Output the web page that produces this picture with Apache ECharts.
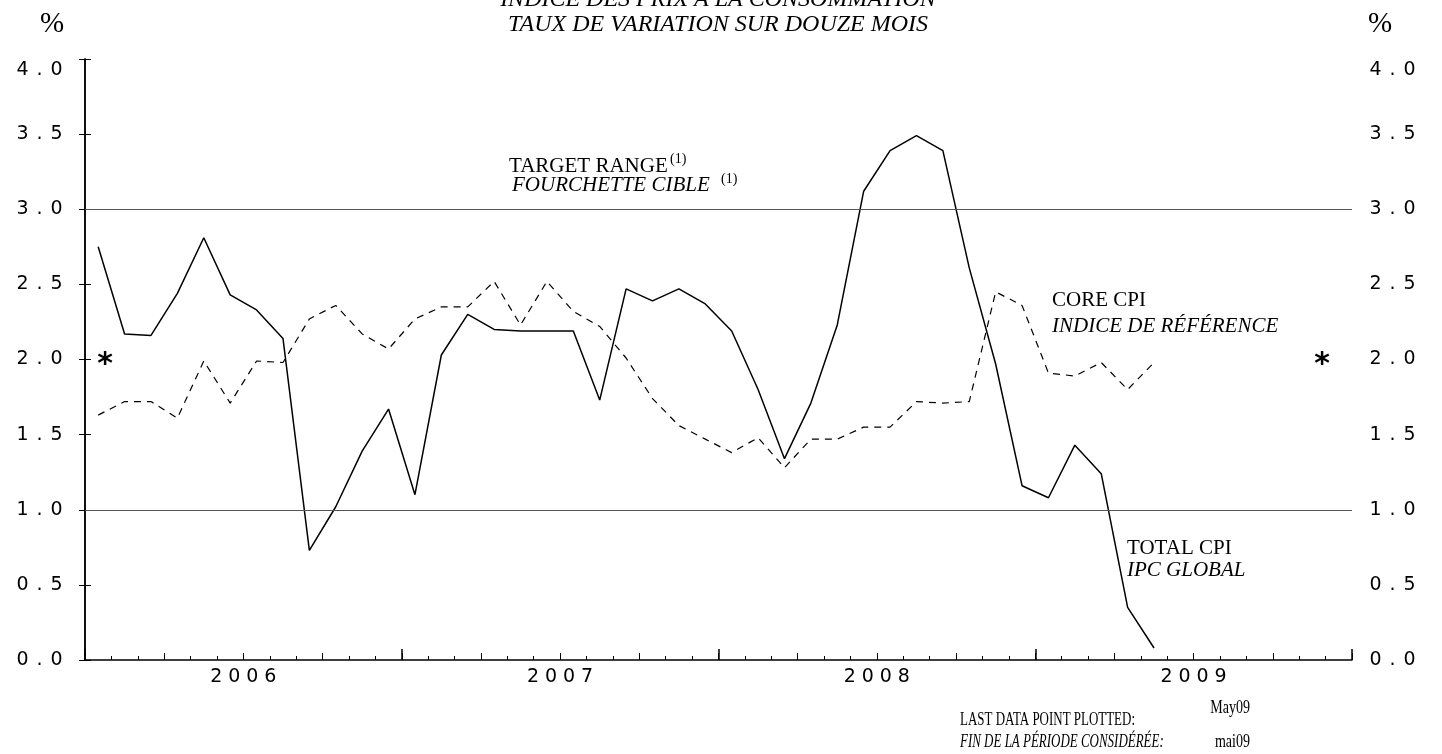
<!DOCTYPE html>
<html><head><meta charset="utf-8">
<script src="https://cdn.jsdelivr.net/npm/echarts@6/dist/echarts.min.js"></script>
<style>html,body{margin:0;padding:0;background:#fff}#c{width:1442px;height:754px}</style>
</head><body><div id="c"></div>
<script>
// Monthly axis, Jan 2006 .. Dec 2009 (48 months)
const months = [
 'Jan06','Feb06','Mar06','Apr06','May06','Jun06','Jul06','Aug06','Sep06','Oct06','Nov06','Dec06',
 'Jan07','Feb07','Mar07','Apr07','May07','Jun07','Jul07','Aug07','Sep07','Oct07','Nov07','Dec07',
 'Jan08','Feb08','Mar08','Apr08','May08','Jun08','Jul08','Aug08','Sep08','Oct08','Nov08','Dec08',
 'Jan09','Feb09','Mar09','Apr09','May09','Jun09','Jul09','Aug09','Sep09','Oct09','Nov09','Dec09'
];
const yearLabels = ['2006','2007','2008','2009'];
// Total CPI, 12-month % change, Jan06..May09
const totalCPI = [
 2.75, 2.17, 2.16, 2.44, 2.81, 2.43, 2.33, 2.14, 0.73, 1.02, 1.39, 1.67,
 1.10, 2.03, 2.30, 2.20, 2.19, 2.19, 2.19, 1.73, 2.47, 2.39, 2.47, 2.37,
 2.19, 1.80, 1.34, 1.71, 2.23, 3.12, 3.39, 3.49, 3.39, 2.61, 1.97, 1.16,
 1.08, 1.43, 1.24, 0.35, 0.08
];
// Core CPI, 12-month % change, Jan06..May09
const coreCPI = [
 1.63, 1.72, 1.72, 1.61, 1.99, 1.71, 1.99, 1.98, 2.27, 2.36, 2.17, 2.07,
 2.27, 2.35, 2.35, 2.52, 2.23, 2.52, 2.32, 2.22, 2.01, 1.74, 1.56, 1.47,
 1.38, 1.48, 1.28, 1.47, 1.47, 1.55, 1.55, 1.72, 1.71, 1.72, 2.45, 2.36,
 1.91, 1.89, 1.98, 1.80, 1.98
];
const targetRange = [1.0, 3.0];

const chart = echarts.init(document.getElementById('c'), null, {renderer: 'canvas'});

function spaced(str, key) {
  return str.split('').map(function (ch) { return '{' + key + '|' + ch + '}'; }).join('');
}
const digitStyle = {fontFamily: 'DejaVu Sans', fontSize: 19, width: 17, align: 'center', color: '#000'};
const yRich = {
  c: digitStyle,
  t: Object.assign({}, digitStyle, {padding: [22, 0, 0, 0]})
};
const yearRich = {y: Object.assign({}, digitStyle, {width: 18})};

const baseX = {
  type: 'value', min: 0, max: 48, gridIndex: 0, position: 'bottom',
  splitLine: {show: false}, axisLabel: {show: false},
  axisLine: {show: false, onZero: false},
  axisTick: {show: true, inside: true, lineStyle: {color: '#000', width: 1}}
};
function xAx(extra) { return Object.assign({}, baseX, extra); }

function yAx(pos, margin) {
  return {
    type: 'value', min: 0, max: 4, interval: 0.5, position: pos,
    axisLine: {show: true, lineStyle: {color: '#000', width: 1.5}},
    axisTick: {show: true, inside: true, length: 6, lineStyle: {color: '#000', width: 1}},
    splitLine: {show: false},
    axisLabel: {
      margin: margin,
      formatter: function (v) { return spaced(v.toFixed(1), v === 4 ? 't' : 'c'); },
      rich: yRich
    }
  };
}

function pts(arr) { return arr.map(function (v, i) { return [i + 0.5, v]; }); }

const serif = 'Liberation Serif';
function txt(x, y, text, size, opts) {
  opts = opts || {};
  return {
    type: 'text', x: x, y: y, silent: true,
    scaleX: opts.scaleX || 1,
    style: {
      text: text,
      fontFamily: opts.family || serif,
      fontSize: size,
      fontStyle: opts.italic ? 'italic' : 'normal',
      fontWeight: opts.bold ? 'bold' : 'normal',
      fill: '#000',
      textAlign: opts.align || 'left',
      textVerticalAlign: 'middle'
    }
  };
}

chart.setOption({
  animation: false,
  backgroundColor: '#fff',
  grid: {left: 85, right: 90, top: 59, bottom: 94, containLabel: false},
  xAxis: [
    xAx({interval: 1, axisLine: {show: true, onZero: false, lineStyle: {color: '#000', width: 1.5}},
         axisTick: {show: true, inside: true, length: 4, lineStyle: {color: '#000', width: 1}}}),
    xAx({interval: 3, axisTick: {show: true, inside: true, length: 7, lineStyle: {color: '#000', width: 1}}}),
    xAx({interval: 12, axisTick: {show: true, inside: true, length: 11, lineStyle: {color: '#000', width: 1.5}}}),
    xAx({interval: 6, axisTick: {show: false},
         axisLabel: {show: true, margin: 8, rich: yearRich,
           formatter: function (v) {
             if ((v - 6) % 12 !== 0) return '';
             return spaced(yearLabels[(v - 6) / 12], 'y');
           }}})
  ],
  yAxis: [yAx('left', 20), yAx('right', 15)],
  series: [
    {
      name: 'TOTAL CPI', type: 'line', xAxisIndex: 0, yAxisIndex: 0,
      data: pts(totalCPI), symbol: 'none',
      lineStyle: {color: '#000', width: 1.5},
      markLine: {
        silent: true, symbol: ['none', 'none'], label: {show: false},
        lineStyle: {color: '#555', width: 1.2, type: 'solid'},
        data: targetRange.map(function (v) { return {yAxis: v}; })
      }
    },
    {
      name: 'CORE CPI', type: 'line', xAxisIndex: 0, yAxisIndex: 0,
      data: pts(coreCPI), symbol: 'none',
      lineStyle: {color: '#000', width: 1.2, type: [7, 6]}
    }
  ],
  graphic: [
    txt(718, 0, 'INDICE DES PRIX À LA CONSOMMATION', 24, {italic: true, align: 'center'}),
    txt(718, 25, 'TAUX DE VARIATION SUR DOUZE MOIS', 24, {italic: true, align: 'center'}),
    txt(52, 24, '%', 29, {align: 'center'}),
    txt(1380, 24, '%', 29, {align: 'center'}),
    txt(105, 365, '*', 30, {family: 'DejaVu Sans', bold: true, align: 'center'}),
    txt(1322, 365, '*', 30, {family: 'DejaVu Sans', bold: true, align: 'center'}),
    txt(509, 166, 'TARGET RANGE', 21),
    txt(670, 159, '(1)', 14),
    txt(512, 185, 'FOURCHETTE CIBLE', 21, {italic: true}),
    txt(721, 179, '(1)', 14),
    txt(1052, 300, 'CORE CPI', 21),
    txt(1052, 326, 'INDICE DE RÉFÉRENCE', 21, {italic: true}),
    txt(1127, 548, 'TOTAL CPI', 21),
    txt(1127, 570, 'IPC GLOBAL', 21, {italic: true}),
    txt(960, 720, 'LAST DATA POINT PLOTTED:', 18, {scaleX: 0.72}),
    txt(960, 742, 'FIN DE LA PÉRIODE CONSIDÉRÉE:', 18, {italic: true, scaleX: 0.72}),
    txt(1250, 708, 'May09', 18, {align: 'right', scaleX: 0.78}),
    txt(1250, 742, 'mai09', 18, {align: 'right', scaleX: 0.78})
  ]
});
</script>
</body></html>
